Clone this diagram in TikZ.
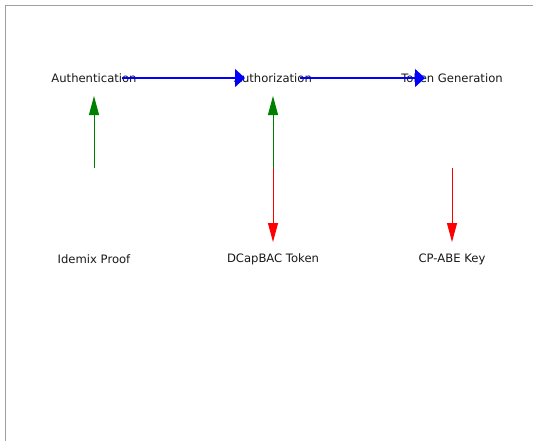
\documentclass[tikz,border=0pt]{standalone}
\usepackage{fontspec}
\setmainfont{DejaVu Sans}
\usetikzlibrary{arrows.meta}
\definecolor{mblue}{HTML}{0000FF}
\definecolor{mgreen}{HTML}{008000}
\definecolor{mred}{HTML}{FF0000}
\begin{document}
\begin{tikzpicture}[x=1pt,y=-1pt,
  lbl/.style={inner sep=0pt,font=\fontsize{11.6}{14}\selectfont,text=black!90},
  flowarrow/.style={draw=mblue,line width=1.3pt,-{Triangle[length=10pt,width=18pt]}},
  uparrow/.style={draw=mgreen,line width=1pt,-{Triangle[length=19pt,width=10pt]}},
  downarrow/.style={draw=mred,line width=1pt,-{Triangle[length=19pt,width=10pt]}}]
\useasboundingbox (0,0) rectangle (533,440);
\fill[white] (0,0) rectangle (533,440);
\draw[gray!75,line width=1.5pt] (5.5,441) -- (5.5,5.5) -- (534,5.5);
% labels
\node[lbl] (auth) at (94,78.5) {Authentication};
\node[lbl] (authz) at (273,78.5) {Authorization};
\node[lbl] (tok) at (452,78.5) {Token Generation};
\node[lbl] (idemix) at (94,259.5) {Idemix Proof};
\node[lbl] (dcap) at (273,259.5) {DCapBAC Token};
\node[lbl] (cpabe) at (452,259.5) {CP-ABE Key};
% named points for arrow ends
\coordinate (b1s) at (122,78);
\coordinate (b1e) at (245,78);
\coordinate (b2s) at (300,78);
\coordinate (b2e) at (425,78);
\coordinate (g1s) at (94,168);
\coordinate (g1e) at (94,96);
\coordinate (g2s) at (273,168);
\coordinate (g2e) at (273,96);
\coordinate (r1s) at (273,168);
\coordinate (r1e) at (273,242);
\coordinate (r2s) at (452,168);
\coordinate (r2e) at (452,242);
% arrows (drawn over the labels, as in the reference)
\draw[flowarrow] (b1s) -- (b1e);
\draw[flowarrow] (b2s) -- (b2e);
\draw[uparrow] (g1s) -- (g1e);
\draw[uparrow] (g2s) -- (g2e);
\draw[downarrow] (r1s) -- (r1e);
\draw[downarrow] (r2s) -- (r2e);
\end{tikzpicture}
\end{document}
